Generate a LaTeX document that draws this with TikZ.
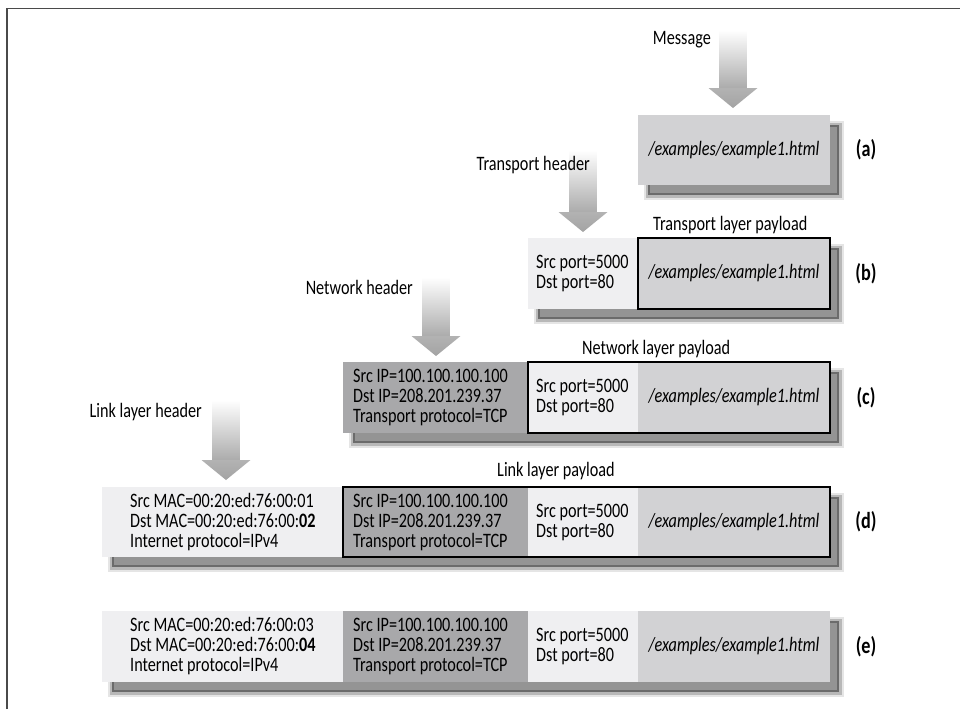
\documentclass[tikz,border=0pt]{standalone}
\usepackage{fontspec}
\setmainfont{Carlito}[FakeStretch=0.79]
\usetikzlibrary{calc}
\definecolor{lightbox}{HTML}{EFEFF1}
\definecolor{darkbox}{HTML}{A8A8AA}
\definecolor{paybox}{HTML}{D2D2D4}
\definecolor{framecol}{HTML}{4A4A4A}
\newcommand{\pktshadow}[4]{%
  \fill[black!10] (#1+6,#2+6) rectangle (#3+14,#4+15);
  \fill[black!28] (#1+8,#2+8) rectangle (#3+12,#4+13);
  \fill[black!58] (#1+10,#2+10) rectangle (#3+9,#4+10);
  \fill[black!42] (#1+12,#2+12) rectangle (#3+7,#4+8);
}
\newcommand{\pktarrow}[3]{%
  \shade[top color=white, bottom color=black!33] (#1-13.5,#2) rectangle (#1+13.5,#3-19.5);
  \shade[top color=black!30, bottom color=black!36] (#1-24.5,#3-20) -- (#1+24.5,#3-20) -- (#1,#3) -- cycle;
}
\begin{document}
\begin{tikzpicture}[x=1pt,y=-1pt,
  cell/.style={anchor=north west, inner sep=0pt, outer sep=0pt, draw=none},
  txt/.style={font=\fontsize{20.5}{20}\selectfont, inner sep=0pt, align=left},
  pay/.style={cell, fill=paybox, minimum width=192pt, font=\fontsize{20.5}{20}\selectfont\itshape},
  border/.style={draw=black, line width=2.6pt},
  tag/.style={font=\fontsize{23}{24}\selectfont\bfseries, inner sep=0pt},
  ttl/.style={font=\fontsize{20.5}{20}\selectfont, inner sep=0pt}]
\useasboundingbox (0,0) rectangle (960,709);
\fill[white] (0,0) rectangle (960,709);
\draw[framecol, line width=1.8pt] (7,709) -- (7,8.5) -- (960,8.5);

% arrows
\pktarrow{733}{30}{108}
\pktarrow{583}{150}{232}
\pktarrow{436}{277}{356}
\pktarrow{226}{400}{480}

% (a)
\pktshadow{638}{115}{830}{185}
\node[pay, minimum height=70pt] (apay) at (638,115) {/examples/example1.html};
\node[tag] (alab) at (866,150) {(a)};

% (b)
\node[ttl, anchor=west] (tpl) at (653,225) {Transport layer payload};
\pktshadow{528}{238}{830}{309}
\node[cell, fill=lightbox, minimum width=110pt, minimum height=71pt] (bport) at (528,238) {};
\node[txt, anchor=west] (bportt) at ($(bport.west)+(8,0)$) {Src port=5000\\Dst port=80};
\node[pay, minimum height=71pt] (bpay) at (638,238) {/examples/example1.html};
\draw[border] (bpay.north west) rectangle (bpay.south east);
\node[tag] (blab) at (866,273.5) {(b)};

% (c)
\node[ttl, anchor=west] (npl) at (582,349) {Network layer payload};
\pktshadow{343}{362}{830}{433}
\node[cell, fill=darkbox, minimum width=185pt, minimum height=71pt] (cip) at (343,362) {};
\node[txt, anchor=west] (cipt) at ($(cip.west)+(10,0)$) {Src IP=100.100.100.100\\Dst IP=208.201.239.37\\Transport protocol=TCP};
\node[cell, fill=lightbox, minimum width=110pt, minimum height=71pt] (cport) at (528,362) {};
\node[txt, anchor=west] (cportt) at ($(cport.west)+(8,0)$) {Src port=5000\\Dst port=80};
\node[pay, minimum height=71pt] (cpay) at (638,362) {/examples/example1.html};
\draw[border] (cport.north west) rectangle (cpay.south east);
\node[tag] (clab) at (866,397.5) {(c)};

% (d)
\node[ttl, anchor=west] (lpl) at (497,471) {Link layer payload};
\pktshadow{102}{487}{830}{557}
\node[cell, fill=lightbox, minimum width=241pt, minimum height=70pt] (dmac) at (102,487) {};
\node[txt, anchor=west] (dmact) at ($(dmac.west)+(28,0)$) {Src MAC=00:20:ed:76:00:01\\Dst MAC=00:20:ed:76:00:\textbf{02}\\Internet protocol=IPv4};
\node[cell, fill=darkbox, minimum width=185pt, minimum height=70pt] (dip) at (343,487) {};
\node[txt, anchor=west] (dipt) at ($(dip.west)+(10,0)$) {Src IP=100.100.100.100\\Dst IP=208.201.239.37\\Transport protocol=TCP};
\node[cell, fill=lightbox, minimum width=110pt, minimum height=70pt] (dport) at (528,487) {};
\node[txt, anchor=west] (dportt) at ($(dport.west)+(8,0)$) {Src port=5000\\Dst port=80};
\node[pay, minimum height=70pt] (dpay) at (638,487) {/examples/example1.html};
\draw[border] (dip.north west) rectangle (dpay.south east);
\node[tag] (dlab) at (866,522) {(d)};

% (e)
\pktshadow{102}{611}{830}{682}
\node[cell, fill=lightbox, minimum width=241pt, minimum height=71pt] (emac) at (102,611) {};
\node[txt, anchor=west] (emact) at ($(emac.west)+(28,0)$) {Src MAC=00:20:ed:76:00:03\\Dst MAC=00:20:ed:76:00:\textbf{04}\\Internet protocol=IPv4};
\node[cell, fill=darkbox, minimum width=185pt, minimum height=71pt] (eip) at (343,611) {};
\node[txt, anchor=west] (eipt) at ($(eip.west)+(10,0)$) {Src IP=100.100.100.100\\Dst IP=208.201.239.37\\Transport protocol=TCP};
\node[cell, fill=lightbox, minimum width=110pt, minimum height=71pt] (eport) at (528,611) {};
\node[txt, anchor=west] (eportt) at ($(eport.west)+(8,0)$) {Src port=5000\\Dst port=80};
\node[pay, minimum height=71pt] (epay) at (638,611) {/examples/example1.html};
\node[tag] (elab) at (866,646.5) {(e)};

% titles (drawn last, above the arrow shafts)
\node[ttl, anchor=east] (msg) at (711,40) {Message};
\node[ttl, anchor=east] (th) at (590,165) {Transport header};
\node[ttl, anchor=east] (nh) at (413,287) {Network header};
\node[ttl, anchor=east] (lh) at (202,412) {Link layer header};
\end{tikzpicture}
\end{document}
